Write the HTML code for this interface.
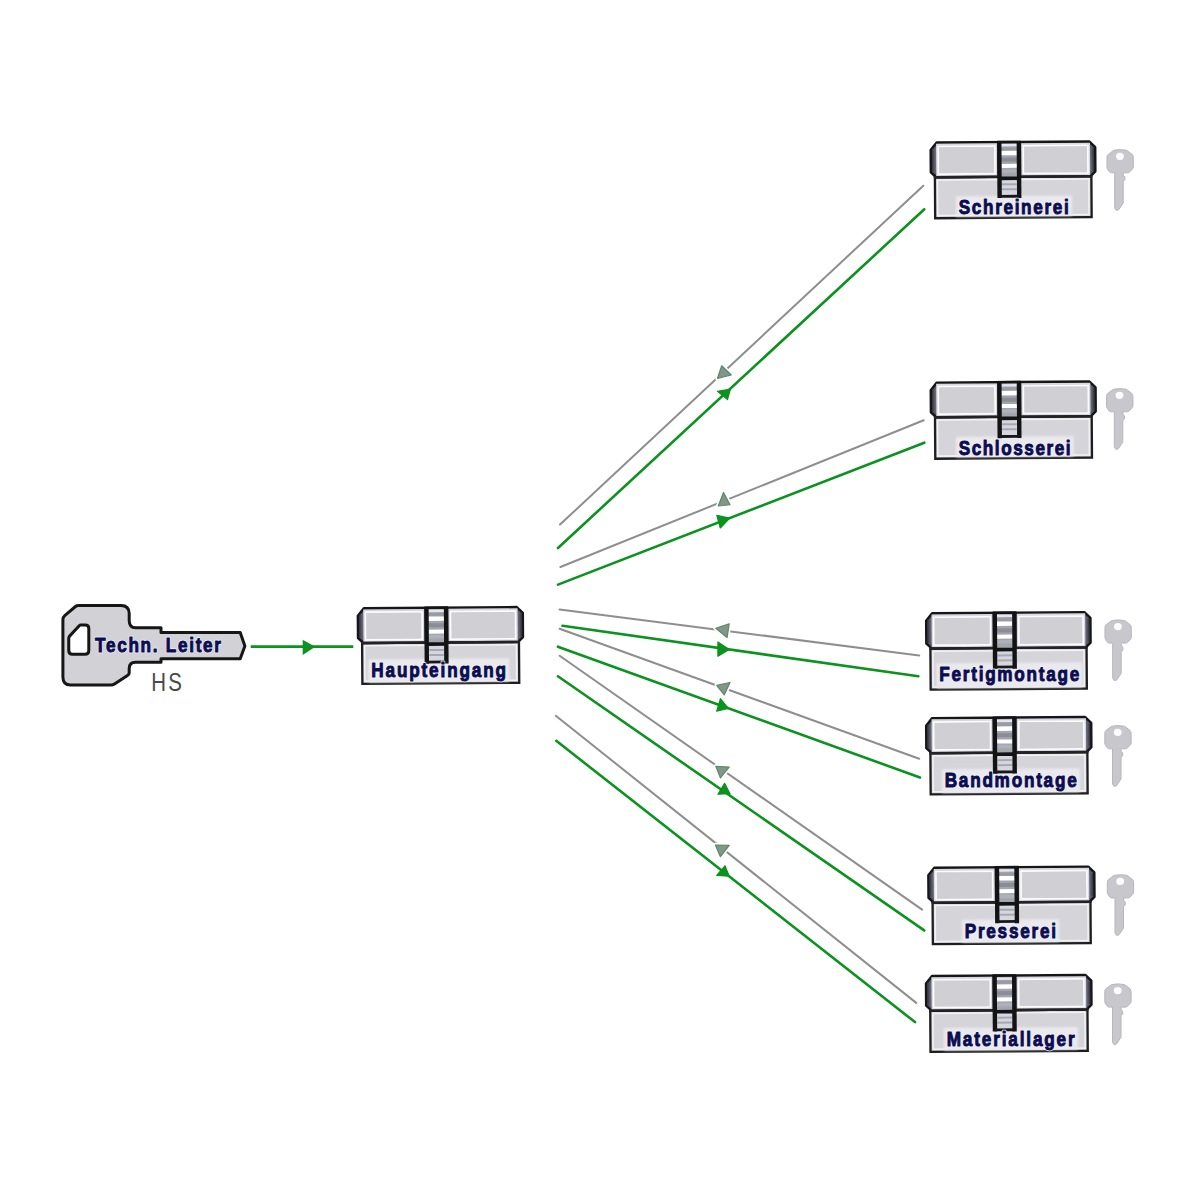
<!DOCTYPE html>
<html><head><meta charset="utf-8"><style>
html,body{margin:0;padding:0;background:#ffffff;}
svg{display:block;font-family:"Liberation Sans",sans-serif;}
</style></head><body>
<svg width="1200" height="1200" viewBox="0 0 1200 1200">
<defs><linearGradient id="bandL" x1="0" y1="0" x2="1" y2="0"><stop offset="0" stop-color="#30303a"/><stop offset="0.5" stop-color="#565666"/><stop offset="1" stop-color="#747484"/></linearGradient>
<filter id="soft" x="-10%" y="-30%" width="120%" height="160%"><feGaussianBlur stdDeviation="1.2"/></filter>
<linearGradient id="bandR" x1="0" y1="0" x2="1" y2="0"><stop offset="0" stop-color="#747484"/><stop offset="0.5" stop-color="#565666"/><stop offset="1" stop-color="#30303a"/></linearGradient></defs>
<rect width="1200" height="1200" fill="#ffffff"/>
<line x1="560" y1="524.6" x2="923.3" y2="185.7" stroke="#8e8e8e" stroke-width="2.0" stroke-linecap="round"/>
<line x1="558" y1="548" x2="924.3" y2="209.3" stroke="#0b921f" stroke-width="2.6" stroke-linecap="round"/>
<line x1="560.4" y1="567" x2="923.7" y2="420.3" stroke="#8e8e8e" stroke-width="2.0" stroke-linecap="round"/>
<line x1="558" y1="584.6" x2="924.3" y2="442.7" stroke="#0b921f" stroke-width="2.6" stroke-linecap="round"/>
<line x1="559.6" y1="609.6" x2="919.2" y2="655.4" stroke="#8e8e8e" stroke-width="2.0" stroke-linecap="round"/>
<line x1="562.5" y1="625.8" x2="918.3" y2="676.25" stroke="#0b921f" stroke-width="2.6" stroke-linecap="round"/>
<line x1="559.6" y1="628.75" x2="919.2" y2="758.75" stroke="#8e8e8e" stroke-width="2.0" stroke-linecap="round"/>
<line x1="557.9" y1="646.7" x2="920" y2="777.5" stroke="#0b921f" stroke-width="2.6" stroke-linecap="round"/>
<line x1="559.6" y1="655.8" x2="922.1" y2="909.6" stroke="#8e8e8e" stroke-width="2.0" stroke-linecap="round"/>
<line x1="557.9" y1="676.25" x2="924.2" y2="930.4" stroke="#0b921f" stroke-width="2.6" stroke-linecap="round"/>
<line x1="555.8" y1="715.8" x2="916.25" y2="1002.9" stroke="#8e8e8e" stroke-width="2.0" stroke-linecap="round"/>
<line x1="556.25" y1="740.8" x2="915" y2="1022.1" stroke="#0b921f" stroke-width="2.6" stroke-linecap="round"/>
<line x1="250.7" y1="646.6" x2="353.3" y2="646.6" stroke="#0b921f" stroke-width="2.8"/>
<polygon points="302.7,639.7 315.3,646.7 302.7,655" fill="#0b921f"/>
<polygon points="721.7,365.8 717.5,378.3 731.25,375" fill="#ffffff" stroke="#ffffff" stroke-width="4.5" stroke-linejoin="round"/>
<polygon points="721.7,365.8 717.5,378.3 731.25,375" fill="#84968a" stroke="#5a8866" stroke-width="1.2" stroke-linejoin="round"/>
<polygon points="723.5,492.5 718.25,506 730,504.75" fill="#ffffff" stroke="#ffffff" stroke-width="4.5" stroke-linejoin="round"/>
<polygon points="723.5,492.5 718.25,506 730,504.75" fill="#84968a" stroke="#5a8866" stroke-width="1.2" stroke-linejoin="round"/>
<polygon points="715.8,628.3 729.2,623.75 727.1,637.5" fill="#ffffff" stroke="#ffffff" stroke-width="4.5" stroke-linejoin="round"/>
<polygon points="715.8,628.3 729.2,623.75 727.1,637.5" fill="#84968a" stroke="#5a8866" stroke-width="1.2" stroke-linejoin="round"/>
<polygon points="716.7,685.4 730,682.5 724.2,695" fill="#ffffff" stroke="#ffffff" stroke-width="4.5" stroke-linejoin="round"/>
<polygon points="716.7,685.4 730,682.5 724.2,695" fill="#84968a" stroke="#5a8866" stroke-width="1.2" stroke-linejoin="round"/>
<polygon points="715.8,766.25 729.2,767.1 720.4,777.9" fill="#ffffff" stroke="#ffffff" stroke-width="4.5" stroke-linejoin="round"/>
<polygon points="715.8,766.25 729.2,767.1 720.4,777.9" fill="#84968a" stroke="#5a8866" stroke-width="1.2" stroke-linejoin="round"/>
<polygon points="715.4,845 729.2,845.4 720.4,856.7" fill="#ffffff" stroke="#ffffff" stroke-width="4.5" stroke-linejoin="round"/>
<polygon points="715.4,845 729.2,845.4 720.4,856.7" fill="#84968a" stroke="#5a8866" stroke-width="1.2" stroke-linejoin="round"/>
<polygon points="717.5,391.25 727.5,399.6 730.4,389.2" fill="#0b921f" stroke="#0b921f" stroke-width="1.2" stroke-linejoin="round"/>
<polygon points="716.8,515.3 720.3,528 729.7,518.2" fill="#0b921f" stroke="#0b921f" stroke-width="1.2" stroke-linejoin="round"/>
<polygon points="717.9,642.1 717.9,656.25 729.2,649.6" fill="#0b921f" stroke="#0b921f" stroke-width="1.2" stroke-linejoin="round"/>
<polygon points="720.4,698.75 716.7,711.25 728.3,708.3" fill="#0b921f" stroke="#0b921f" stroke-width="1.2" stroke-linejoin="round"/>
<polygon points="724.6,783.3 717.9,794.2 730,793.75" fill="#0b921f" stroke="#0b921f" stroke-width="1.2" stroke-linejoin="round"/>
<polygon points="725,865.8 716.7,875.4 729.2,876.25" fill="#0b921f" stroke="#0b921f" stroke-width="1.2" stroke-linejoin="round"/>
<g transform="translate(358.1,607.65) rotate(-0.4,82.45,37.88)">
<rect x="4" y="34.8" width="156.9" height="40.95" fill="#d4d4d9"/>
<rect x="6.6" y="37.6" width="151.7" height="35.55" fill="none" stroke="#f2f2f6" stroke-width="1.5"/>
<rect x="4" y="34.8" width="156.9" height="40.95" fill="none" stroke="#1e1e1e" stroke-width="2.3"/>
<path d="M6 0 H158.9 L164.9 5.8 V30 L160.1 34.8 H5.4 L0 29.8 V7.5 Z" fill="#5e5e6c" stroke="#161618" stroke-width="2.5" stroke-linejoin="round"/>
<rect x="1.2" y="6.5" width="4.4" height="22.8" fill="url(#bandL)"/>
<rect x="159.3" y="6.5" width="4.4" height="22.8" fill="url(#bandR)"/>
<rect x="5.4" y="1.2" width="60.9" height="32.4" fill="#d8d8de"/>
<rect x="7.6" y="4" width="56.5" height="27.6" fill="none" stroke="#fcfcff" stroke-width="1.7"/>
<rect x="8.45" y="4.85" width="54.8" height="25.9" fill="#cfcfd4"/>
<rect x="90.5" y="1.2" width="69.2" height="32.4" fill="#d8d8de"/>
<rect x="92.7" y="4" width="64.8" height="27.6" fill="none" stroke="#fcfcff" stroke-width="1.7"/>
<rect x="93.55" y="4.85" width="63.1" height="25.9" fill="#cfcfd4"/>
<line x1="3" y1="34.8" x2="161.9" y2="34.8" stroke="#232326" stroke-width="2.4"/>
<rect x="10.2" y="51.15" width="140.7" height="23.1" fill="#e9e9ee" filter="url(#soft)"/>
<rect x="68.6" y="0" width="19.6" height="54" fill="#a4a4ac"/>
<rect x="70.4" y="2" width="16" height="2.4" fill="#e6e6ee"/>
<rect x="70.4" y="5.5" width="16" height="2.6" fill="#9a9aa6"/>
<rect x="70.4" y="8.8" width="16" height="4.4" fill="#ffffff"/>
<rect x="70.4" y="15.6" width="16" height="4" fill="#8c8c96"/>
<rect x="70.4" y="21.9" width="16" height="4" fill="#ffffff"/>
<rect x="70.4" y="27.3" width="16" height="3.4" fill="#b0b0ba"/>
<rect x="70.4" y="36.8" width="16" height="16.8" fill="#d6d6de"/>
<rect x="71.1" y="41.3" width="14.6" height="2" fill="#a8a8b2"/>
<rect x="71.1" y="46.3" width="14.6" height="2" fill="#a8a8b2"/>
<line x1="68.6" y1="-0.5" x2="68.6" y2="56" stroke="#131316" stroke-width="4.4"/>
<line x1="88.2" y1="-0.5" x2="88.2" y2="56" stroke="#131316" stroke-width="4.4"/>
<line x1="68.6" y1="36.4" x2="88.2" y2="36.4" stroke="#131316" stroke-width="3.6"/>
<line x1="68.6" y1="54.3" x2="88.2" y2="54.3" stroke="#18181c" stroke-width="2.8"/>
<line x1="66.6" y1="0" x2="90.2" y2="0" stroke="#131316" stroke-width="2.6"/>
</g>
<text x="0" y="0" transform="translate(371.3,677.3) scale(0.82,1)" textLength="164.27" lengthAdjust="spacing" font-size="20.95" font-weight="bold" fill="#f4f4f8" stroke="#f4f4f8" stroke-width="2.4" stroke-linejoin="round">Haupteingang</text><text x="0" y="0" transform="translate(371.3,677.3) scale(0.82,1)" textLength="164.27" lengthAdjust="spacing" font-size="20.95" font-weight="bold" fill="#0c0c50" stroke="#0c0c50" stroke-width="1.0" stroke-linejoin="round">Haupteingang</text>
<g transform="translate(930.9,142) rotate(-0.4,82.25,37.85)">
<rect x="4" y="34.7" width="156.5" height="41" fill="#d4d4d9"/>
<rect x="6.6" y="37.5" width="151.3" height="35.6" fill="none" stroke="#f2f2f6" stroke-width="1.5"/>
<rect x="4" y="34.7" width="156.5" height="41" fill="none" stroke="#1e1e1e" stroke-width="2.3"/>
<path d="M6 0 H158.5 L164.5 5.8 V29.9 L159.7 34.7 H5.4 L0 29.7 V7.5 Z" fill="#5e5e6c" stroke="#161618" stroke-width="2.5" stroke-linejoin="round"/>
<rect x="1.2" y="6.5" width="4.4" height="22.7" fill="url(#bandL)"/>
<rect x="158.9" y="6.5" width="4.4" height="22.7" fill="url(#bandR)"/>
<rect x="5.4" y="1.2" width="60.9" height="32.3" fill="#d8d8de"/>
<rect x="7.6" y="4" width="56.5" height="27.5" fill="none" stroke="#fcfcff" stroke-width="1.7"/>
<rect x="8.45" y="4.85" width="54.8" height="25.8" fill="#cfcfd4"/>
<rect x="90.5" y="1.2" width="68.8" height="32.3" fill="#d8d8de"/>
<rect x="92.7" y="4" width="64.4" height="27.5" fill="none" stroke="#fcfcff" stroke-width="1.7"/>
<rect x="93.55" y="4.85" width="62.7" height="25.8" fill="#cfcfd4"/>
<line x1="3" y1="34.7" x2="161.5" y2="34.7" stroke="#232326" stroke-width="2.4"/>
<rect x="24.85" y="53.9" width="116" height="20.3" fill="#e9e9ee" filter="url(#soft)"/>
<rect x="68.6" y="0" width="19.6" height="54" fill="#a4a4ac"/>
<rect x="70.4" y="2" width="16" height="2.4" fill="#e6e6ee"/>
<rect x="70.4" y="5.5" width="16" height="2.6" fill="#9a9aa6"/>
<rect x="70.4" y="8.8" width="16" height="4.4" fill="#ffffff"/>
<rect x="70.4" y="15.6" width="16" height="4" fill="#8c8c96"/>
<rect x="70.4" y="21.9" width="16" height="4" fill="#ffffff"/>
<rect x="70.4" y="27.3" width="16" height="3.4" fill="#b0b0ba"/>
<rect x="70.4" y="36.7" width="16" height="16.9" fill="#d6d6de"/>
<rect x="71.1" y="41.2" width="14.6" height="2" fill="#a8a8b2"/>
<rect x="71.1" y="46.2" width="14.6" height="2" fill="#a8a8b2"/>
<line x1="68.6" y1="-0.5" x2="68.6" y2="56" stroke="#131316" stroke-width="4.4"/>
<line x1="88.2" y1="-0.5" x2="88.2" y2="56" stroke="#131316" stroke-width="4.4"/>
<line x1="68.6" y1="36.3" x2="88.2" y2="36.3" stroke="#131316" stroke-width="3.6"/>
<line x1="68.6" y1="54.3" x2="88.2" y2="54.3" stroke="#18181c" stroke-width="2.8"/>
<line x1="66.6" y1="0" x2="90.2" y2="0" stroke="#131316" stroke-width="2.6"/>
</g>
<text x="0" y="0" transform="translate(958.75,214.4) scale(0.82,1)" textLength="134.15" lengthAdjust="spacing" font-size="20.95" font-weight="bold" fill="#f4f4f8" stroke="#f4f4f8" stroke-width="2.4" stroke-linejoin="round">Schreinerei</text><text x="0" y="0" transform="translate(958.75,214.4) scale(0.82,1)" textLength="134.15" lengthAdjust="spacing" font-size="20.95" font-weight="bold" fill="#0c0c50" stroke="#0c0c50" stroke-width="1.0" stroke-linejoin="round">Schreinerei</text>
<g transform="translate(931,382.1) rotate(-0.4,82.38,38.05)">
<rect x="4" y="34.6" width="156.75" height="41.5" fill="#d4d4d9"/>
<rect x="6.6" y="37.4" width="151.55" height="36.1" fill="none" stroke="#f2f2f6" stroke-width="1.5"/>
<rect x="4" y="34.6" width="156.75" height="41.5" fill="none" stroke="#1e1e1e" stroke-width="2.3"/>
<path d="M6 0 H158.75 L164.75 5.8 V29.8 L159.95 34.6 H5.4 L0 29.6 V7.5 Z" fill="#5e5e6c" stroke="#161618" stroke-width="2.5" stroke-linejoin="round"/>
<rect x="1.2" y="6.5" width="4.4" height="22.6" fill="url(#bandL)"/>
<rect x="159.15" y="6.5" width="4.4" height="22.6" fill="url(#bandR)"/>
<rect x="5.4" y="1.2" width="60.9" height="32.2" fill="#d8d8de"/>
<rect x="7.6" y="4" width="56.5" height="27.4" fill="none" stroke="#fcfcff" stroke-width="1.7"/>
<rect x="8.45" y="4.85" width="54.8" height="25.7" fill="#cfcfd4"/>
<rect x="90.5" y="1.2" width="69.05" height="32.2" fill="#d8d8de"/>
<rect x="92.7" y="4" width="64.65" height="27.4" fill="none" stroke="#fcfcff" stroke-width="1.7"/>
<rect x="93.55" y="4.85" width="62.95" height="25.7" fill="#cfcfd4"/>
<line x1="3" y1="34.6" x2="161.75" y2="34.6" stroke="#232326" stroke-width="2.4"/>
<rect x="24.75" y="54.4" width="117.85" height="20.2" fill="#e9e9ee" filter="url(#soft)"/>
<rect x="68.6" y="0" width="19.6" height="54" fill="#a4a4ac"/>
<rect x="70.4" y="2" width="16" height="2.4" fill="#e6e6ee"/>
<rect x="70.4" y="5.5" width="16" height="2.6" fill="#9a9aa6"/>
<rect x="70.4" y="8.8" width="16" height="4.4" fill="#ffffff"/>
<rect x="70.4" y="15.6" width="16" height="4" fill="#8c8c96"/>
<rect x="70.4" y="21.9" width="16" height="4" fill="#ffffff"/>
<rect x="70.4" y="27.3" width="16" height="3.4" fill="#b0b0ba"/>
<rect x="70.4" y="36.6" width="16" height="17" fill="#d6d6de"/>
<rect x="71.1" y="41.1" width="14.6" height="2" fill="#a8a8b2"/>
<rect x="71.1" y="46.1" width="14.6" height="2" fill="#a8a8b2"/>
<line x1="68.6" y1="-0.5" x2="68.6" y2="56" stroke="#131316" stroke-width="4.4"/>
<line x1="88.2" y1="-0.5" x2="88.2" y2="56" stroke="#131316" stroke-width="4.4"/>
<line x1="68.6" y1="36.2" x2="88.2" y2="36.2" stroke="#131316" stroke-width="3.6"/>
<line x1="68.6" y1="54.3" x2="88.2" y2="54.3" stroke="#18181c" stroke-width="2.8"/>
<line x1="66.6" y1="0" x2="90.2" y2="0" stroke="#131316" stroke-width="2.6"/>
</g>
<text x="0" y="0" transform="translate(958.75,455) scale(0.82,1)" textLength="136.4" lengthAdjust="spacing" font-size="20.95" font-weight="bold" fill="#f4f4f8" stroke="#f4f4f8" stroke-width="2.4" stroke-linejoin="round">Schlosserei</text><text x="0" y="0" transform="translate(958.75,455) scale(0.82,1)" textLength="136.4" lengthAdjust="spacing" font-size="20.95" font-weight="bold" fill="#0c0c50" stroke="#0c0c50" stroke-width="1.0" stroke-linejoin="round">Schlosserei</text>
<g transform="translate(926.4,612.7) rotate(-0.4,82.1,38.2)">
<rect x="4" y="35.2" width="156.2" height="41.2" fill="#d4d4d9"/>
<rect x="6.6" y="38" width="151" height="35.8" fill="none" stroke="#f2f2f6" stroke-width="1.5"/>
<rect x="4" y="35.2" width="156.2" height="41.2" fill="none" stroke="#1e1e1e" stroke-width="2.3"/>
<path d="M6 0 H158.2 L164.2 5.8 V30.4 L159.4 35.2 H5.4 L0 30.2 V7.5 Z" fill="#5e5e6c" stroke="#161618" stroke-width="2.5" stroke-linejoin="round"/>
<rect x="1.2" y="6.5" width="4.4" height="23.2" fill="url(#bandL)"/>
<rect x="158.6" y="6.5" width="4.4" height="23.2" fill="url(#bandR)"/>
<rect x="5.4" y="1.2" width="60.9" height="32.8" fill="#d8d8de"/>
<rect x="7.6" y="4" width="56.5" height="28" fill="none" stroke="#fcfcff" stroke-width="1.7"/>
<rect x="8.45" y="4.85" width="54.8" height="26.3" fill="#cfcfd4"/>
<rect x="90.5" y="1.2" width="68.5" height="32.8" fill="#d8d8de"/>
<rect x="92.7" y="4" width="64.1" height="28" fill="none" stroke="#fcfcff" stroke-width="1.7"/>
<rect x="93.55" y="4.85" width="62.4" height="26.3" fill="#cfcfd4"/>
<line x1="3" y1="35.2" x2="161.2" y2="35.2" stroke="#232326" stroke-width="2.4"/>
<rect x="9.9" y="50.1" width="146" height="24.8" fill="#e9e9ee" filter="url(#soft)"/>
<rect x="68.6" y="0" width="19.6" height="54" fill="#a4a4ac"/>
<rect x="70.4" y="2" width="16" height="2.4" fill="#e6e6ee"/>
<rect x="70.4" y="5.5" width="16" height="2.6" fill="#9a9aa6"/>
<rect x="70.4" y="8.8" width="16" height="4.4" fill="#ffffff"/>
<rect x="70.4" y="15.6" width="16" height="4" fill="#8c8c96"/>
<rect x="70.4" y="21.9" width="16" height="4" fill="#ffffff"/>
<rect x="70.4" y="27.3" width="16" height="3.4" fill="#b0b0ba"/>
<rect x="70.4" y="37.2" width="16" height="16.4" fill="#d6d6de"/>
<rect x="71.1" y="41.7" width="14.6" height="2" fill="#a8a8b2"/>
<rect x="71.1" y="46.7" width="14.6" height="2" fill="#a8a8b2"/>
<line x1="68.6" y1="-0.5" x2="68.6" y2="56" stroke="#131316" stroke-width="4.4"/>
<line x1="88.2" y1="-0.5" x2="88.2" y2="56" stroke="#131316" stroke-width="4.4"/>
<line x1="68.6" y1="36.8" x2="88.2" y2="36.8" stroke="#131316" stroke-width="3.6"/>
<line x1="68.6" y1="54.3" x2="88.2" y2="54.3" stroke="#18181c" stroke-width="2.8"/>
<line x1="66.6" y1="0" x2="90.2" y2="0" stroke="#131316" stroke-width="2.6"/>
</g>
<text x="0" y="0" transform="translate(939.3,681.3) scale(0.82,1)" textLength="170.73" lengthAdjust="spacing" font-size="20.95" font-weight="bold" fill="#f4f4f8" stroke="#f4f4f8" stroke-width="2.4" stroke-linejoin="round">Fertigmontage</text><text x="0" y="0" transform="translate(939.3,681.3) scale(0.82,1)" textLength="170.73" lengthAdjust="spacing" font-size="20.95" font-weight="bold" fill="#0c0c50" stroke="#0c0c50" stroke-width="1.0" stroke-linejoin="round">Fertigmontage</text>
<g transform="translate(926.4,717.6) rotate(-0.4,82.5,38.15)">
<rect x="4" y="35" width="157" height="41.3" fill="#d4d4d9"/>
<rect x="6.6" y="37.8" width="151.8" height="35.9" fill="none" stroke="#f2f2f6" stroke-width="1.5"/>
<rect x="4" y="35" width="157" height="41.3" fill="none" stroke="#1e1e1e" stroke-width="2.3"/>
<path d="M6 0 H159 L165 5.8 V30.2 L160.2 35 H5.4 L0 30 V7.5 Z" fill="#5e5e6c" stroke="#161618" stroke-width="2.5" stroke-linejoin="round"/>
<rect x="1.2" y="6.5" width="4.4" height="23" fill="url(#bandL)"/>
<rect x="159.4" y="6.5" width="4.4" height="23" fill="url(#bandR)"/>
<rect x="5.4" y="1.2" width="60.9" height="32.6" fill="#d8d8de"/>
<rect x="7.6" y="4" width="56.5" height="27.8" fill="none" stroke="#fcfcff" stroke-width="1.7"/>
<rect x="8.45" y="4.85" width="54.8" height="26.1" fill="#cfcfd4"/>
<rect x="90.5" y="1.2" width="69.3" height="32.6" fill="#d8d8de"/>
<rect x="92.7" y="4" width="64.9" height="27.8" fill="none" stroke="#fcfcff" stroke-width="1.7"/>
<rect x="93.55" y="4.85" width="63.2" height="26.1" fill="#cfcfd4"/>
<line x1="3" y1="35" x2="162" y2="35" stroke="#232326" stroke-width="2.4"/>
<rect x="15.3" y="51.2" width="138" height="23.6" fill="#e9e9ee" filter="url(#soft)"/>
<rect x="68.6" y="0" width="19.6" height="54" fill="#a4a4ac"/>
<rect x="70.4" y="2" width="16" height="2.4" fill="#e6e6ee"/>
<rect x="70.4" y="5.5" width="16" height="2.6" fill="#9a9aa6"/>
<rect x="70.4" y="8.8" width="16" height="4.4" fill="#ffffff"/>
<rect x="70.4" y="15.6" width="16" height="4" fill="#8c8c96"/>
<rect x="70.4" y="21.9" width="16" height="4" fill="#ffffff"/>
<rect x="70.4" y="27.3" width="16" height="3.4" fill="#b0b0ba"/>
<rect x="70.4" y="37" width="16" height="16.6" fill="#d6d6de"/>
<rect x="71.1" y="41.5" width="14.6" height="2" fill="#a8a8b2"/>
<rect x="71.1" y="46.5" width="14.6" height="2" fill="#a8a8b2"/>
<line x1="68.6" y1="-0.5" x2="68.6" y2="56" stroke="#131316" stroke-width="4.4"/>
<line x1="88.2" y1="-0.5" x2="88.2" y2="56" stroke="#131316" stroke-width="4.4"/>
<line x1="68.6" y1="36.6" x2="88.2" y2="36.6" stroke="#131316" stroke-width="3.6"/>
<line x1="68.6" y1="54.3" x2="88.2" y2="54.3" stroke="#18181c" stroke-width="2.8"/>
<line x1="66.6" y1="0" x2="90.2" y2="0" stroke="#131316" stroke-width="2.6"/>
</g>
<text x="0" y="0" transform="translate(944.7,787.3) scale(0.82,1)" textLength="160.98" lengthAdjust="spacing" font-size="20.95" font-weight="bold" fill="#f4f4f8" stroke="#f4f4f8" stroke-width="2.4" stroke-linejoin="round">Bandmontage</text><text x="0" y="0" transform="translate(944.7,787.3) scale(0.82,1)" textLength="160.98" lengthAdjust="spacing" font-size="20.95" font-weight="bold" fill="#0c0c50" stroke="#0c0c50" stroke-width="1.0" stroke-linejoin="round">Bandmontage</text>
<g transform="translate(928.6,867.2) rotate(-0.4,82.95,38.2)">
<rect x="4" y="35" width="157.9" height="41.4" fill="#d4d4d9"/>
<rect x="6.6" y="37.8" width="152.7" height="36" fill="none" stroke="#f2f2f6" stroke-width="1.5"/>
<rect x="4" y="35" width="157.9" height="41.4" fill="none" stroke="#1e1e1e" stroke-width="2.3"/>
<path d="M6 0 H159.9 L165.9 5.8 V30.2 L161.1 35 H5.4 L0 30 V7.5 Z" fill="#5e5e6c" stroke="#161618" stroke-width="2.5" stroke-linejoin="round"/>
<rect x="1.2" y="6.5" width="4.4" height="23" fill="url(#bandL)"/>
<rect x="160.3" y="6.5" width="4.4" height="23" fill="url(#bandR)"/>
<rect x="5.4" y="1.2" width="60.9" height="32.6" fill="#d8d8de"/>
<rect x="7.6" y="4" width="56.5" height="27.8" fill="none" stroke="#fcfcff" stroke-width="1.7"/>
<rect x="8.45" y="4.85" width="54.8" height="26.1" fill="#cfcfd4"/>
<rect x="90.5" y="1.2" width="70.2" height="32.6" fill="#d8d8de"/>
<rect x="92.7" y="4" width="65.8" height="27.8" fill="none" stroke="#fcfcff" stroke-width="1.7"/>
<rect x="93.55" y="4.85" width="64.1" height="26.1" fill="#cfcfd4"/>
<line x1="3" y1="35" x2="162.9" y2="35" stroke="#232326" stroke-width="2.4"/>
<rect x="33.1" y="52.3" width="97.3" height="22.6" fill="#e9e9ee" filter="url(#soft)"/>
<rect x="68.6" y="0" width="19.6" height="54" fill="#a4a4ac"/>
<rect x="70.4" y="2" width="16" height="2.4" fill="#e6e6ee"/>
<rect x="70.4" y="5.5" width="16" height="2.6" fill="#9a9aa6"/>
<rect x="70.4" y="8.8" width="16" height="4.4" fill="#ffffff"/>
<rect x="70.4" y="15.6" width="16" height="4" fill="#8c8c96"/>
<rect x="70.4" y="21.9" width="16" height="4" fill="#ffffff"/>
<rect x="70.4" y="27.3" width="16" height="3.4" fill="#b0b0ba"/>
<rect x="70.4" y="37" width="16" height="16.6" fill="#d6d6de"/>
<rect x="71.1" y="41.5" width="14.6" height="2" fill="#a8a8b2"/>
<rect x="71.1" y="46.5" width="14.6" height="2" fill="#a8a8b2"/>
<line x1="68.6" y1="-0.5" x2="68.6" y2="56" stroke="#131316" stroke-width="4.4"/>
<line x1="88.2" y1="-0.5" x2="88.2" y2="56" stroke="#131316" stroke-width="4.4"/>
<line x1="68.6" y1="36.6" x2="88.2" y2="36.6" stroke="#131316" stroke-width="3.6"/>
<line x1="68.6" y1="54.3" x2="88.2" y2="54.3" stroke="#18181c" stroke-width="2.8"/>
<line x1="66.6" y1="0" x2="90.2" y2="0" stroke="#131316" stroke-width="2.6"/>
</g>
<text x="0" y="0" transform="translate(964.7,938) scale(0.82,1)" textLength="111.34" lengthAdjust="spacing" font-size="20.95" font-weight="bold" fill="#f4f4f8" stroke="#f4f4f8" stroke-width="2.4" stroke-linejoin="round">Presserei</text><text x="0" y="0" transform="translate(964.7,938) scale(0.82,1)" textLength="111.34" lengthAdjust="spacing" font-size="20.95" font-weight="bold" fill="#0c0c50" stroke="#0c0c50" stroke-width="1.0" stroke-linejoin="round">Presserei</text>
<g transform="translate(926.25,975.5) rotate(-0.4,82.62,37.95)">
<rect x="4" y="34.6" width="157.25" height="41.3" fill="#d4d4d9"/>
<rect x="6.6" y="37.4" width="152.05" height="35.9" fill="none" stroke="#f2f2f6" stroke-width="1.5"/>
<rect x="4" y="34.6" width="157.25" height="41.3" fill="none" stroke="#1e1e1e" stroke-width="2.3"/>
<path d="M6 0 H159.25 L165.25 5.8 V29.8 L160.45 34.6 H5.4 L0 29.6 V7.5 Z" fill="#5e5e6c" stroke="#161618" stroke-width="2.5" stroke-linejoin="round"/>
<rect x="1.2" y="6.5" width="4.4" height="22.6" fill="url(#bandL)"/>
<rect x="159.65" y="6.5" width="4.4" height="22.6" fill="url(#bandR)"/>
<rect x="5.4" y="1.2" width="60.9" height="32.2" fill="#d8d8de"/>
<rect x="7.6" y="4" width="56.5" height="27.4" fill="none" stroke="#fcfcff" stroke-width="1.7"/>
<rect x="8.45" y="4.85" width="54.8" height="25.7" fill="#cfcfd4"/>
<rect x="90.5" y="1.2" width="69.55" height="32.2" fill="#d8d8de"/>
<rect x="92.7" y="4" width="65.15" height="27.4" fill="none" stroke="#fcfcff" stroke-width="1.7"/>
<rect x="93.55" y="4.85" width="63.45" height="25.7" fill="#cfcfd4"/>
<line x1="3" y1="34.6" x2="162.25" y2="34.6" stroke="#232326" stroke-width="2.4"/>
<rect x="17.45" y="52" width="134" height="22.4" fill="#e9e9ee" filter="url(#soft)"/>
<rect x="68.6" y="0" width="19.6" height="54" fill="#a4a4ac"/>
<rect x="70.4" y="2" width="16" height="2.4" fill="#e6e6ee"/>
<rect x="70.4" y="5.5" width="16" height="2.6" fill="#9a9aa6"/>
<rect x="70.4" y="8.8" width="16" height="4.4" fill="#ffffff"/>
<rect x="70.4" y="15.6" width="16" height="4" fill="#8c8c96"/>
<rect x="70.4" y="21.9" width="16" height="4" fill="#ffffff"/>
<rect x="70.4" y="27.3" width="16" height="3.4" fill="#b0b0ba"/>
<rect x="70.4" y="36.6" width="16" height="17" fill="#d6d6de"/>
<rect x="71.1" y="41.1" width="14.6" height="2" fill="#a8a8b2"/>
<rect x="71.1" y="46.1" width="14.6" height="2" fill="#a8a8b2"/>
<line x1="68.6" y1="-0.5" x2="68.6" y2="56" stroke="#131316" stroke-width="4.4"/>
<line x1="88.2" y1="-0.5" x2="88.2" y2="56" stroke="#131316" stroke-width="4.4"/>
<line x1="68.6" y1="36.2" x2="88.2" y2="36.2" stroke="#131316" stroke-width="3.6"/>
<line x1="68.6" y1="54.3" x2="88.2" y2="54.3" stroke="#18181c" stroke-width="2.8"/>
<line x1="66.6" y1="0" x2="90.2" y2="0" stroke="#131316" stroke-width="2.6"/>
</g>
<text x="0" y="0" transform="translate(946.7,1046) scale(0.82,1)" textLength="156.1" lengthAdjust="spacing" font-size="20.95" font-weight="bold" fill="#f4f4f8" stroke="#f4f4f8" stroke-width="2.4" stroke-linejoin="round">Materiallager</text><text x="0" y="0" transform="translate(946.7,1046) scale(0.82,1)" textLength="156.1" lengthAdjust="spacing" font-size="20.95" font-weight="bold" fill="#0c0c50" stroke="#0c0c50" stroke-width="1.0" stroke-linejoin="round">Materiallager</text>
<g transform="translate(1119.7,156.5)"><path d="M-6 -6.2 Q0.5 -7.6 7 -6.2 L12.4 -2.2 Q13.6 -1 13.6 1 V10.5 Q13.6 12 12.4 13 L9.5 15.8 Q8.8 16.3 7.5 16.3 H3.6 V19 L5.2 20.3 V23.5 L3.5 24.8 V46.5 L-0.8 53 Q-2.6 55 -4.2 53 Q-5 52 -5 50.5 V16.3 H-8 Q-9.2 16.3 -10 15.6 L-11.8 13.2 Q-12.7 12 -12.7 10.5 V0.8 Q-12.7 -1 -11.6 -2 Z" fill="#c7c7cc" stroke="#b6b6bc" stroke-width="1" stroke-linejoin="round"/><ellipse cx="0.2" cy="-0.2" rx="3.9" ry="3.6" fill="#ffffff"/></g>
<g transform="translate(1119.3,395.5)"><path d="M-6 -6.2 Q0.5 -7.6 7 -6.2 L12.4 -2.2 Q13.6 -1 13.6 1 V10.5 Q13.6 12 12.4 13 L9.5 15.8 Q8.8 16.3 7.5 16.3 H3.6 V19 L5.2 20.3 V23.5 L3.5 24.8 V46.5 L-0.8 53 Q-2.6 55 -4.2 53 Q-5 52 -5 50.5 V16.3 H-8 Q-9.2 16.3 -10 15.6 L-11.8 13.2 Q-12.7 12 -12.7 10.5 V0.8 Q-12.7 -1 -11.6 -2 Z" fill="#c7c7cc" stroke="#b6b6bc" stroke-width="1" stroke-linejoin="round"/><ellipse cx="0.2" cy="-0.2" rx="3.9" ry="3.6" fill="#ffffff"/></g>
<g transform="translate(1117.7,626.8)"><path d="M-6 -6.2 Q0.5 -7.6 7 -6.2 L12.4 -2.2 Q13.6 -1 13.6 1 V10.5 Q13.6 12 12.4 13 L9.5 15.8 Q8.8 16.3 7.5 16.3 H3.6 V19 L5.2 20.3 V23.5 L3.5 24.8 V46.5 L-0.8 53 Q-2.6 55 -4.2 53 Q-5 52 -5 50.5 V16.3 H-8 Q-9.2 16.3 -10 15.6 L-11.8 13.2 Q-12.7 12 -12.7 10.5 V0.8 Q-12.7 -1 -11.6 -2 Z" fill="#c7c7cc" stroke="#b6b6bc" stroke-width="1" stroke-linejoin="round"/><ellipse cx="0.2" cy="-0.2" rx="3.9" ry="3.6" fill="#ffffff"/></g>
<g transform="translate(1117.5,732.5)"><path d="M-6 -6.2 Q0.5 -7.6 7 -6.2 L12.4 -2.2 Q13.6 -1 13.6 1 V10.5 Q13.6 12 12.4 13 L9.5 15.8 Q8.8 16.3 7.5 16.3 H3.6 V19 L5.2 20.3 V23.5 L3.5 24.8 V46.5 L-0.8 53 Q-2.6 55 -4.2 53 Q-5 52 -5 50.5 V16.3 H-8 Q-9.2 16.3 -10 15.6 L-11.8 13.2 Q-12.7 12 -12.7 10.5 V0.8 Q-12.7 -1 -11.6 -2 Z" fill="#c7c7cc" stroke="#b6b6bc" stroke-width="1" stroke-linejoin="round"/><ellipse cx="0.2" cy="-0.2" rx="3.9" ry="3.6" fill="#ffffff"/></g>
<g transform="translate(1120,881.6)"><path d="M-6 -6.2 Q0.5 -7.6 7 -6.2 L12.4 -2.2 Q13.6 -1 13.6 1 V10.5 Q13.6 12 12.4 13 L9.5 15.8 Q8.8 16.3 7.5 16.3 H3.6 V19 L5.2 20.3 V23.5 L3.5 24.8 V46.5 L-0.8 53 Q-2.6 55 -4.2 53 Q-5 52 -5 50.5 V16.3 H-8 Q-9.2 16.3 -10 15.6 L-11.8 13.2 Q-12.7 12 -12.7 10.5 V0.8 Q-12.7 -1 -11.6 -2 Z" fill="#c7c7cc" stroke="#b6b6bc" stroke-width="1" stroke-linejoin="round"/><ellipse cx="0.2" cy="-0.2" rx="3.9" ry="3.6" fill="#ffffff"/></g>
<g transform="translate(1117.5,990.8)"><path d="M-6 -6.2 Q0.5 -7.6 7 -6.2 L12.4 -2.2 Q13.6 -1 13.6 1 V10.5 Q13.6 12 12.4 13 L9.5 15.8 Q8.8 16.3 7.5 16.3 H3.6 V19 L5.2 20.3 V23.5 L3.5 24.8 V46.5 L-0.8 53 Q-2.6 55 -4.2 53 Q-5 52 -5 50.5 V16.3 H-8 Q-9.2 16.3 -10 15.6 L-11.8 13.2 Q-12.7 12 -12.7 10.5 V0.8 Q-12.7 -1 -11.6 -2 Z" fill="#c7c7cc" stroke="#b6b6bc" stroke-width="1" stroke-linejoin="round"/><ellipse cx="0.2" cy="-0.2" rx="3.9" ry="3.6" fill="#ffffff"/></g>
<path d="M78.5 605.4 H121 Q129.2 605.4 129.2 613.5 V620.5 Q129.2 627.8 135.5 627.8 H161 V632.5 H240.2 L244.9 645.9 L240.2 658.75 H161 V662.3 H135.5 Q129.2 662.3 129.2 668.5 V673 Q129.2 674.5 127.5 675.5 L114.5 684 Q113 685 111 685 H70.5 Q62.9 685 62.9 677 V619.5 Q62.9 617 65 615.3 L75.5 606.5 Q76.8 605.4 78.5 605.4 Z" fill="#d1d1d6" stroke="#161616" stroke-width="3" stroke-linejoin="round"/>
<path d="M80.5 625 H85.3 Q88.8 625 88.8 628.5 V650.2 Q88.8 654.2 84.8 654.2 H72.6 Q68.75 654.2 68.75 650.2 V638.5 Q68.75 637 69.8 635.9 L79 626 Q79.6 625 80.5 625 Z" fill="#ffffff" stroke="#161616" stroke-width="3" stroke-linejoin="round"/>
<text x="0" y="0" transform="translate(95,652) scale(0.82,1)" textLength="153.66" lengthAdjust="spacing" font-size="20.95" font-weight="bold" fill="#f4f4f8" stroke="#f4f4f8" stroke-width="2.4" stroke-linejoin="round">Techn. Leiter</text><text x="0" y="0" transform="translate(95,652) scale(0.82,1)" textLength="153.66" lengthAdjust="spacing" font-size="20.95" font-weight="bold" fill="#0c0c50" stroke="#0c0c50" stroke-width="1.0" stroke-linejoin="round">Techn. Leiter</text>
<text x="0" y="0" transform="translate(151.25,690.5) scale(0.8,1)" textLength="38.3" lengthAdjust="spacing" font-size="25.5" fill="#4a4a4a">HS</text>
</svg>
</body></html>
